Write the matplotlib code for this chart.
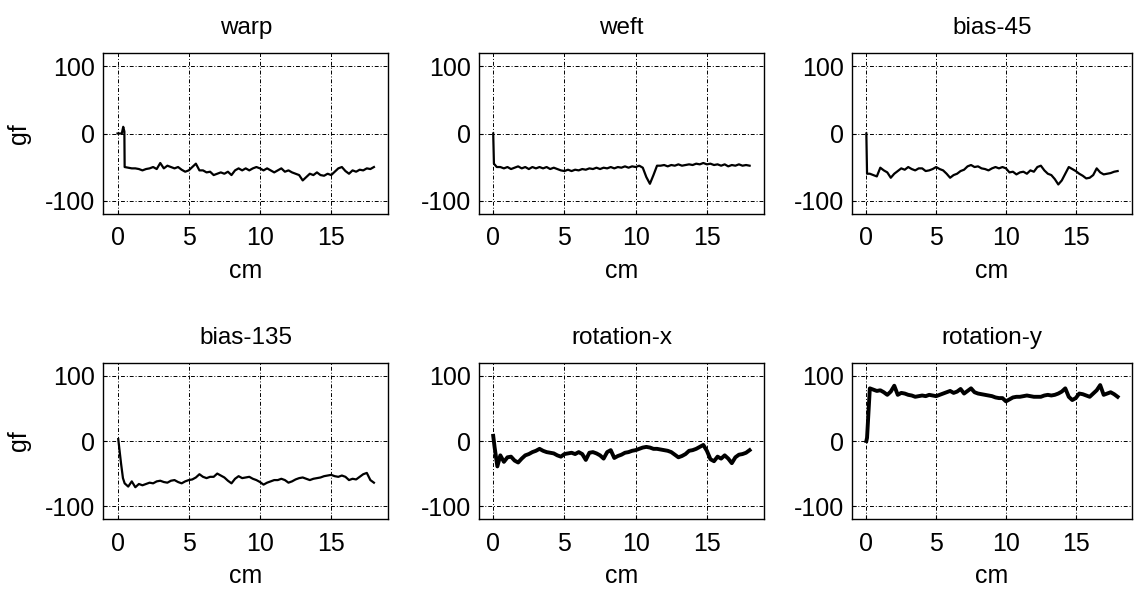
import numpy as np
import matplotlib.pyplot as plt

plt.rcParams['font.family'] = ['Liberation Sans', 'DejaVu Sans']
plt.rcParams['axes.unicode_minus'] = False

# regular sampling positions (cm) after the initial transient
grid = np.arange(0.5, 18.001, 0.25)

titles = ["warp", "weft", "bias-45", "bias-135", "rotation-x", "rotation-y"]

# initial transient (x < 0.5 cm)
warp_head_x = [0, 0.3, 0.4, 0.48]
warp_head_y = [0, 0, 10, 3]
warp_y = [-50, -51, -52, -52, -53, -55, -53, -52, -50, -53, -44, -52, -48, -50, -52, -50,
          -54, -57, -55, -50, -45, -55, -55, -58, -57, -62, -60, -58, -60, -57, -62, -55,
          -52, -55, -52, -55, -52, -50, -52, -55, -52, -55, -58, -55, -52, -57, -55, -58,
          -60, -62, -70, -65, -60, -62, -58, -62, -63, -60, -62, -57, -52, -50, -56, -60,
          -55, -57, -54, -55, -52, -53, -50]

weft_head_x = [0, 0.05, 0.25]
weft_head_y = [0, -45, -50]
weft_y = [-50, -52, -50, -53, -51, -49, -52, -50, -53, -50, -52, -50, -52, -50, -53, -51,
          -53, -55, -56, -54, -56, -54, -55, -53, -54, -52, -53, -51, -53, -51, -52, -50,
          -52, -50, -51, -49, -51, -49, -50, -48, -51, -65, -75, -62, -48, -48, -47, -49,
          -47, -48, -46, -48, -47, -46, -47, -45, -46, -44, -46, -45, -47, -46, -48, -46,
          -49, -47, -48, -46, -48, -47, -48]

b45_head_x = [0, 0.05, 0.25]
b45_head_y = [0, -60, -60]
b45_y = [-62, -64, -51, -55, -58, -66, -60, -56, -52, -54, -50, -53, -55, -52, -52, -56,
         -55, -53, -50, -53, -55, -60, -66, -62, -60, -56, -54, -49, -47, -50, -49, -52,
         -53, -55, -52, -50, -52, -50, -52, -58, -57, -61, -58, -57, -60, -55, -57, -50,
         -48, -55, -60, -62, -68, -76, -70, -60, -50, -53, -56, -60, -63, -67, -66, -62,
         -52, -58, -61, -60, -59, -57, -56]

b135_head_x = [0.05, 0.25, 0.38]
b135_head_y = [3, -35, -57]
b135_y = [-65, -70, -62, -71, -66, -68, -66, -64, -65, -62, -61, -63, -64, -61, -60, -63,
          -65, -62, -60, -59, -56, -51, -55, -57, -55, -55, -50, -53, -56, -61, -65, -58,
          -54, -57, -56, -55, -58, -60, -63, -67, -64, -62, -60, -60, -58, -60, -64, -62,
          -59, -57, -56, -58, -60, -58, -57, -56, -54, -53, -52, -54, -55, -53, -55, -60,
          -58, -59, -55, -51, -49, -60, -64]

rotx_head_x = [0, 0.1, 0.29]
rotx_head_y = [8, -10, -39]
rotx_y = [-22, -32, -25, -24, -30, -33, -27, -22, -20, -17, -15, -12, -15, -17, -18, -19,
          -22, -24, -20, -19, -18, -20, -17, -20, -29, -18, -17, -19, -22, -27, -17, -14,
          -26, -23, -21, -18, -17, -15, -14, -12, -10, -9, -10, -12, -12, -13, -14, -15,
          -17, -21, -25, -23, -20, -15, -14, -12, -9, -6, -15, -28, -31, -24, -27, -22,
          -27, -34, -25, -21, -20, -18, -14]

roty_head_x = [0, 0.05, 0.25]
roty_head_y = [0, 5, 81]
roty_y = [79, 77, 78, 75, 71, 76, 85, 71, 74, 73, 71, 70, 68, 69, 70, 69,
          71, 70, 69, 71, 73, 75, 77, 74, 76, 80, 73, 77, 81, 75, 73, 72,
          71, 70, 69, 67, 66, 66, 61, 64, 67, 68, 68, 69, 70, 69, 68, 68,
          68, 70, 71, 70, 71, 73, 76, 81, 68, 63, 66, 73, 72, 70, 68, 73,
          78, 86, 71, 73, 75, 72, 68]

heads_x = [warp_head_x, weft_head_x, b45_head_x, b135_head_x, rotx_head_x, roty_head_x]
heads_y = [warp_head_y, weft_head_y, b45_head_y, b135_head_y, rotx_head_y, roty_head_y]
bodies = [warp_y, weft_y, b45_y, b135_y, rotx_y, roty_y]
widths = [1.6, 1.6, 1.6, 1.6, 2.8, 2.8]

x_ticks = [0, 5, 10, 15]
y_ticks = [-100, 0, 100]

fig = plt.figure(figsize=(11.35, 5.96), dpi=100)

lefts = [0.091, 0.422, 0.751]
col_w = [0.251, 0.251, 0.246]
bottoms = [0.641, 0.129]
row_h = [0.270, 0.262]

for i, name in enumerate(titles):
    r, c = divmod(i, 3)
    ax = fig.add_axes([lefts[c], bottoms[r], col_w[c], row_h[r]])
    xs = list(heads_x[i]) + list(grid)
    ys = list(heads_y[i]) + list(bodies[i])
    ax.plot(xs, ys, color='black', lw=widths[i], solid_joinstyle='round')
    ax.set_xlim(-1, 19)
    ax.set_ylim(-120, 120)
    ax.set_xticks(x_ticks)
    ax.set_yticks(y_ticks)
    ax.grid(True, color='black', lw=0.7, linestyle=(0, (4, 2, 1, 2)))
    ax.tick_params(direction='in', length=3, labelsize=18)
    ax.tick_params(axis='x', pad=9)
    ax.tick_params(axis='y', pad=6)
    for s in ax.spines.values():
        s.set_linewidth(1.0)
    ax.set_title(name, fontsize=17.5, pad=14)
    ax.set_xlabel("cm", fontsize=18, labelpad=6)
    if c == 0:
        ax.set_ylabel("gf", fontsize=18)
        ax.yaxis.set_label_coords(-0.255, 0.5)

fig.savefig("out.png", dpi=100)
